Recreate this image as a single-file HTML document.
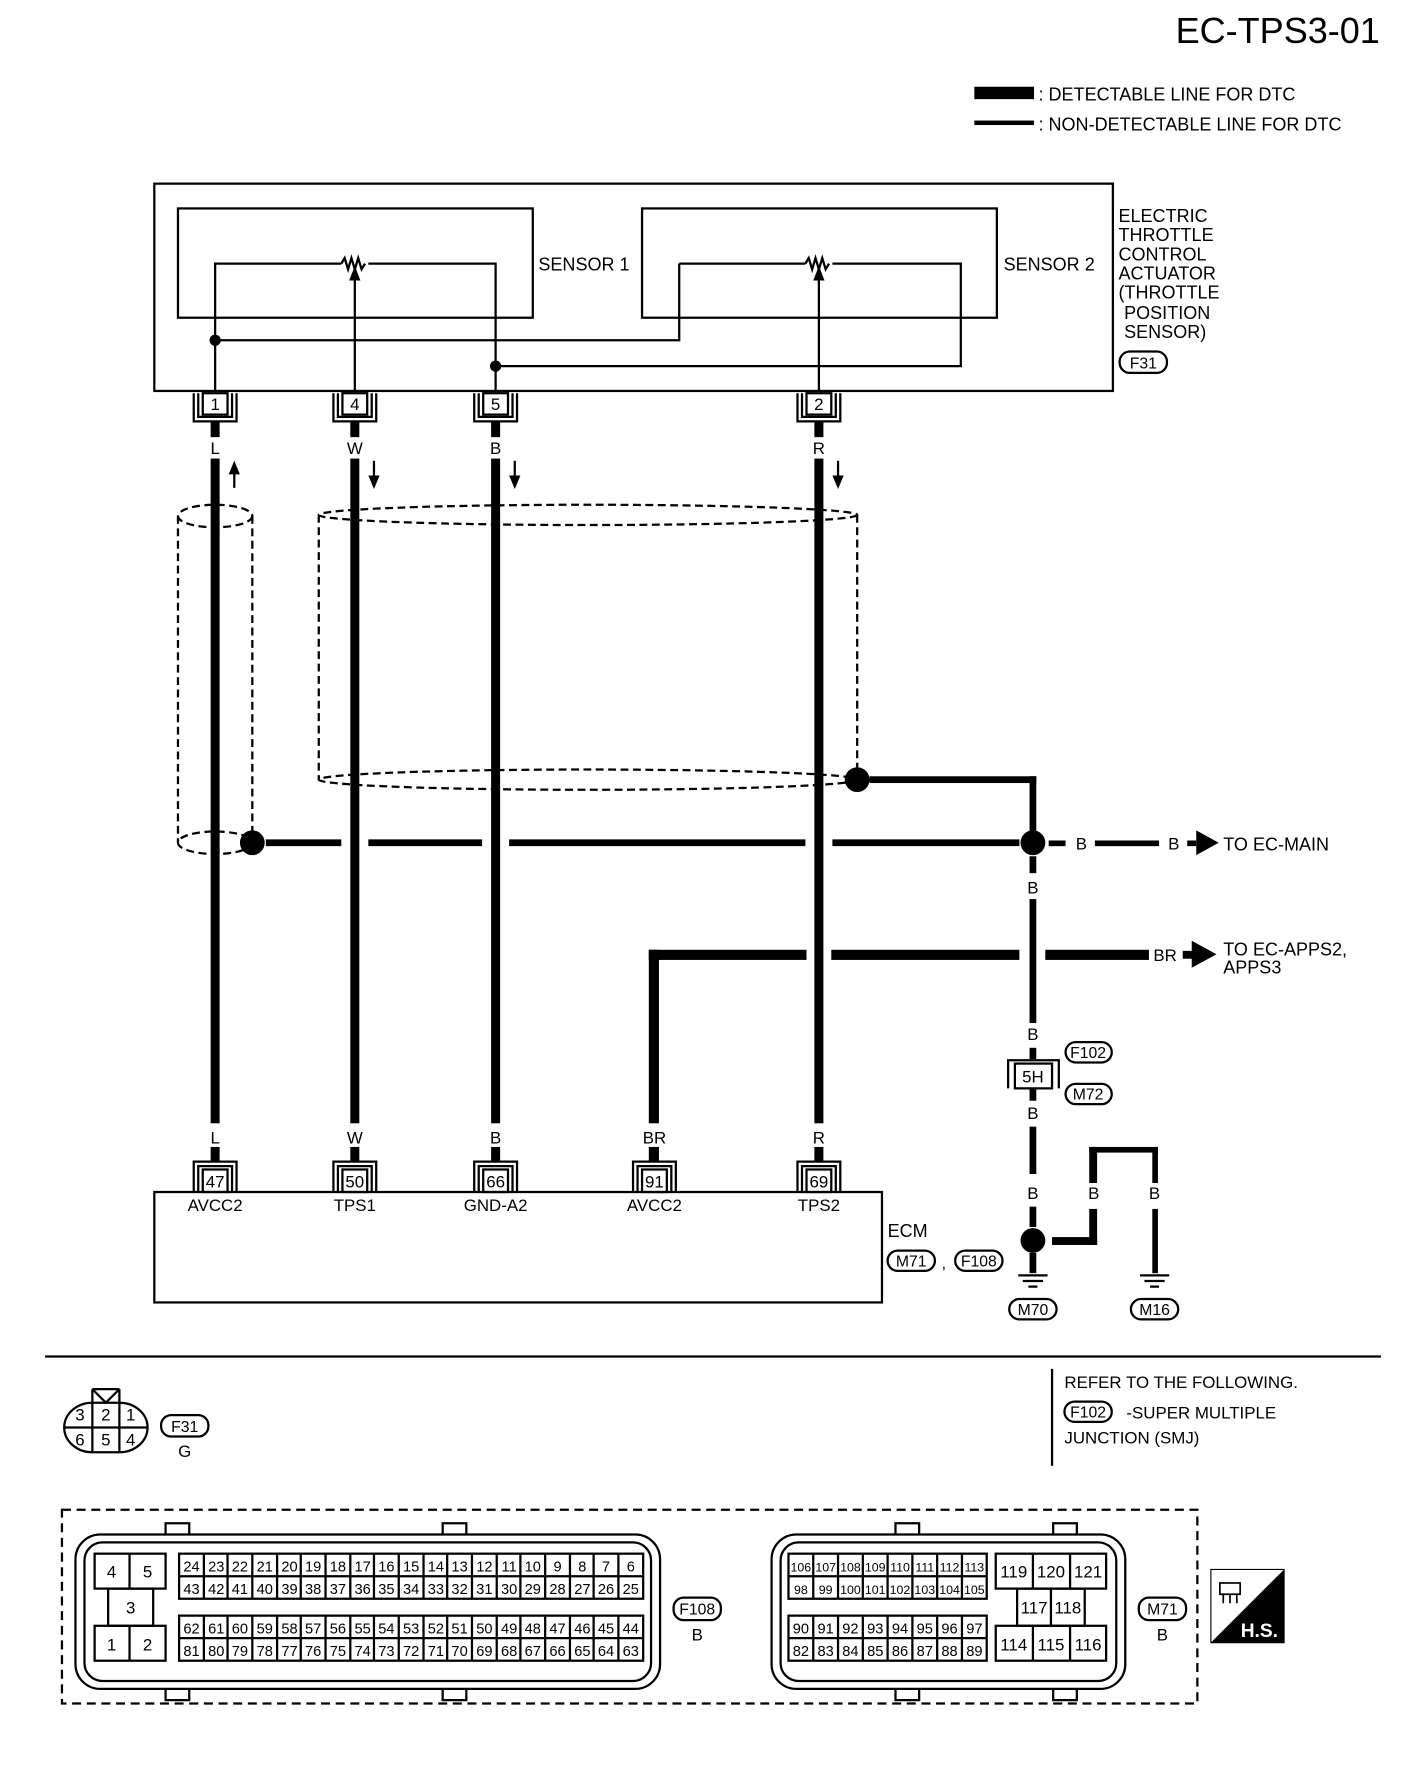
<!DOCTYPE html>
<html><head><meta charset="utf-8"><style>
html,body{margin:0;padding:0;background:#fff}
svg{display:block}
text{font-family:"Liberation Sans",sans-serif;fill:#000}
</style></head><body>
<svg width="1408" height="1770" viewBox="0 0 1250 1571" preserveAspectRatio="none" xmlns="http://www.w3.org/2000/svg">
<rect width="1250" height="1571" fill="#fff"/>
<text x="1225" y="38" font-size="32" text-anchor="end">EC-TPS3-01</text>
<rect x="865" y="77" width="53" height="11" fill="#000"/>
<rect x="865" y="107" width="53" height="4" fill="#000"/>
<text x="922" y="89" font-size="16">: DETECTABLE LINE FOR DTC</text>
<text x="922" y="116" font-size="16">: NON-DETECTABLE LINE FOR DTC</text>

<g fill="none" stroke="#000" stroke-width="2">
<rect x="137" y="163" width="851" height="184"/>
<rect x="158" y="185" width="315" height="97"/>
<rect x="570" y="185" width="315" height="97"/>
<path d="M191,347 V234 H303 M327,234 H440 V347"/>
<path d="M303,234 l3,-5 l3,10 l3,-10 l3,10 l3,-10 l3,10 l3,-5"/>
<path d="M603,234 H715 M739,234 H853 V325 H440"/>
<path d="M715,234 l3,-5 l3,10 l3,-10 l3,10 l3,-10 l3,10 l3,-5"/>
<path d="M191,302 H603 V234"/>
<path d="M315,347 V246 M727,347 V246"/>
</g>
<path d="M315,236 l-5,13 h10z M727,236 l-5,13 h10z" fill="#000"/>
<circle cx="191" cy="302" r="5"/><circle cx="440" cy="325" r="5"/>
<text x="478" y="240" font-size="16">SENSOR 1</text>
<text x="891" y="240" font-size="16">SENSOR 2</text>
<g font-size="16"><text x="993" y="197">ELECTRIC</text><text x="993" y="214">THROTTLE</text><text x="993" y="231">CONTROL</text><text x="993" y="248">ACTUATOR</text><text x="993" y="265">(THROTTLE</text><text x="998" y="283">POSITION</text><text x="998" y="300">SENSOR)</text></g>
<rect x="994" y="312" width="42" height="19" rx="9" fill="none" stroke="#000" stroke-width="2"/><text x="1015" y="327" font-size="14" text-anchor="middle">F31</text>

<!-- top connectors -->
<g fill="none" stroke="#000" stroke-width="2">
<path d="M172,349 V374 H210 V349 M176,349 V370 H206 V349"/><rect x="180" y="349" width="22" height="19" fill="#fff"/>
<path d="M296,349 V374 H334 V349 M300,349 V370 H330 V349"/><rect x="304" y="349" width="22" height="19" fill="#fff"/>
<path d="M421,349 V374 H459 V349 M425,349 V370 H455 V349"/><rect x="429" y="349" width="22" height="19" fill="#fff"/>
<path d="M708,349 V374 H746 V349 M712,349 V370 H742 V349"/><rect x="716" y="349" width="22" height="19" fill="#fff"/>
</g>
<g font-size="15" text-anchor="middle"><text x="191" y="364">1</text><text x="315" y="364">4</text><text x="440" y="364">5</text><text x="727" y="364">2</text></g>
<g font-size="15" text-anchor="middle"><text x="191" y="403">L</text><text x="315" y="403">W</text><text x="440" y="403">B</text><text x="727" y="403">R</text></g>

<!-- thick wires -->
<g fill="#000">
<rect x="187" y="375" width="8" height="13"/><rect x="187" y="407" width="8" height="590"/>
<rect x="311" y="375" width="8" height="13"/><rect x="311" y="407" width="8" height="590"/>
<rect x="436" y="375" width="8" height="13"/><rect x="436" y="407" width="8" height="590"/>
<rect x="723" y="375" width="8" height="13"/><rect x="723" y="407" width="8" height="590"/>
<rect x="576" y="843" width="9" height="154"/>
<rect x="576" y="843" width="140" height="9"/>
<rect x="738" y="843" width="167" height="9"/>
<rect x="928" y="843" width="92" height="9"/>
<path d="M1058,835 l22,12 l-22,12z M1050,844 h8 v7 h-8z"/>
<path d="M208,409 l-5,12 h10z" /><rect x="207" y="419" width="2" height="14"/>
<path d="M332,434 l-5,-12 h10z"/><rect x="331" y="409" width="2" height="14"/>
<path d="M457,434 l-5,-12 h10z"/><rect x="456" y="409" width="2" height="14"/>
<path d="M744,434 l-5,-12 h10z"/><rect x="743" y="409" width="2" height="14"/>
</g>

<!-- shields -->
<g fill="none" stroke="#000" stroke-width="2" stroke-dasharray="7,4">
<ellipse cx="191" cy="458" rx="33" ry="10"/>
<ellipse cx="191" cy="748" rx="33" ry="10"/>
<path d="M158,458 V748 M224,458 V748"/>
<ellipse cx="522" cy="457" rx="239" ry="9"/>
<ellipse cx="522" cy="692" rx="239" ry="9"/>
<path d="M283,457 V692 M761,457 V692"/>
</g>
<circle cx="224" cy="748" r="11"/>
<circle cx="761" cy="692" r="11"/>
<g fill="#000">
<rect x="236" y="745" width="67" height="6"/><rect x="327" y="745" width="101" height="6"/><rect x="452" y="745" width="263" height="6"/><rect x="739" y="745" width="166" height="6"/>
<rect x="772" y="689" width="148" height="6"/><rect x="914" y="689" width="6" height="50"/>
</g>
<circle cx="917" cy="748" r="11"/>
<g fill="#000">
<rect x="931" y="746" width="15" height="5"/><rect x="972" y="746" width="57" height="5"/><rect x="1054" y="746" width="8" height="5"/>
<path d="M1062,737 l20,11 l-20,11z"/>
<rect x="914" y="760" width="6" height="15"/><rect x="914" y="798" width="6" height="110"/>
<rect x="914" y="930" width="6" height="10"/><rect x="914" y="967" width="6" height="10"/>
<rect x="914" y="1000" width="6" height="42"/><rect x="914" y="1071" width="6" height="18"/>
<rect x="914" y="1112" width="6" height="18"/>
<rect x="934" y="1098" width="40" height="7"/>
<rect x="967" y="1018" width="7" height="32"/><rect x="967" y="1073" width="7" height="32"/>
<rect x="967" y="1018" width="61" height="5"/>
<rect x="1023" y="1018" width="5" height="32"/><rect x="1023" y="1073" width="5" height="57"/>
</g>
<circle cx="917" cy="1101" r="11"/>
<g font-size="15" text-anchor="middle"><text x="960" y="754">B</text><text x="1042" y="754">B</text><text x="917" y="793">B</text><text x="917" y="923">B</text><text x="917" y="993">B</text><text x="917" y="1064">B</text><text x="971" y="1064">B</text><text x="1025" y="1064">B</text></g>
<text x="1024" y="853" font-size="15">BR</text>
<text x="1086" y="755" font-size="16">TO EC-MAIN</text>
<text x="1086" y="848" font-size="16">TO EC-APPS2,</text>
<text x="1086" y="864" font-size="16">APPS3</text>
<g fill="none" stroke="#000" stroke-width="2">
<path d="M895,966 V941 H940 V966"/><rect x="901" y="944" width="33" height="22" fill="#fff"/>
<rect x="946" y="925" width="41" height="18" rx="9"/><rect x="946" y="962" width="41" height="18" rx="9"/>
<path d="M904,1132 h26 M908,1137 h18 M913,1142 h8 M1012,1132 h26 M1016,1137 h18 M1021,1142 h8"/>
<rect x="896" y="1153" width="42" height="18" rx="9"/><rect x="1004" y="1153" width="42" height="18" rx="9"/>
</g>
<text x="917" y="961" font-size="15" text-anchor="middle">5H</text>
<text x="966" y="939" font-size="14" text-anchor="middle">F102</text>
<text x="966" y="976" font-size="14" text-anchor="middle">M72</text>
<text x="917" y="1167" font-size="14" text-anchor="middle">M70</text>
<text x="1025" y="1167" font-size="14" text-anchor="middle">M16</text>

<!-- ECM -->
<g fill="#000">
<rect x="187" y="1018" width="8" height="13"/><rect x="311" y="1018" width="8" height="13"/><rect x="436" y="1018" width="8" height="13"/><rect x="576" y="1018" width="9" height="13"/><rect x="723" y="1018" width="8" height="13"/>
</g>
<g font-size="15" text-anchor="middle"><text x="191" y="1015">L</text><text x="315" y="1015">W</text><text x="440" y="1015">B</text><text x="581" y="1015">BR</text><text x="727" y="1015">R</text></g>
<g fill="none" stroke="#000" stroke-width="2">
<path d="M172,1058 V1031 H210 V1058 M176,1058 V1035 H206 V1058"/><rect x="180" y="1038" width="22" height="20" fill="#fff"/>
<path d="M296,1058 V1031 H334 V1058 M300,1058 V1035 H330 V1058"/><rect x="304" y="1038" width="22" height="20" fill="#fff"/>
<path d="M421,1058 V1031 H459 V1058 M425,1058 V1035 H455 V1058"/><rect x="429" y="1038" width="22" height="20" fill="#fff"/>
<path d="M562,1058 V1031 H600 V1058 M566,1058 V1035 H596 V1058"/><rect x="570" y="1038" width="22" height="20" fill="#fff"/>
<path d="M708,1058 V1031 H746 V1058 M712,1058 V1035 H742 V1058"/><rect x="716" y="1038" width="22" height="20" fill="#fff"/>
<rect x="137" y="1058" width="646" height="98"/>
<rect x="788" y="1110" width="42" height="18" rx="9"/><rect x="848" y="1110" width="42" height="18" rx="9"/>
</g>
<g font-size="15" text-anchor="middle"><text x="191" y="1054">47</text><text x="315" y="1054">50</text><text x="440" y="1054">66</text><text x="581" y="1054">91</text><text x="727" y="1054">69</text>
<text x="191" y="1075">AVCC2</text><text x="315" y="1075">TPS1</text><text x="440" y="1075">GND-A2</text><text x="581" y="1075">AVCC2</text><text x="727" y="1075">TPS2</text></g>
<text x="788" y="1098" font-size="16">ECM</text>
<text x="809" y="1124" font-size="14" text-anchor="middle">M71</text><text x="836" y="1126" font-size="14">,</text>
<text x="869" y="1124" font-size="14" text-anchor="middle">F108</text>

<rect x="40" y="1203" width="1186" height="2" fill="#000"/>
<rect x="933" y="1215" width="2" height="86" fill="#000"/>
<text x="945" y="1232" font-size="15">REFER TO THE FOLLOWING.</text>
<rect x="945" y="1244" width="42" height="18" rx="9" fill="none" stroke="#000" stroke-width="2"/>
<text x="966" y="1258" font-size="14" text-anchor="middle">F102</text>
<text x="1000" y="1259" font-size="15">-SUPER MULTIPLE</text>
<text x="945" y="1281" font-size="15">JUNCTION (SMJ)</text>

<!-- F31 connector -->
<g fill="none" stroke="#000" stroke-width="2">
<path d="M82,1245 H106 A25,22 0 0 1 106,1289 H82 A25,22 0 0 1 82,1245Z"/>
<path d="M82,1233 V1289 M106,1233 V1289 M82,1233 H106 M82,1233 L94,1245 L106,1233 M57,1267 H131"/>
<rect x="143" y="1256" width="42" height="19" rx="9"/>
</g>
<g font-size="15" text-anchor="middle"><text x="71" y="1261">3</text><text x="94" y="1261">2</text><text x="116" y="1261">1</text><text x="71" y="1283">6</text><text x="94" y="1283">5</text><text x="116" y="1283">4</text></g>
<text x="164" y="1271" font-size="14" text-anchor="middle">F31</text>
<text x="164" y="1293" font-size="15" text-anchor="middle">G</text>

<!-- bottom connectors -->
<rect x="55" y="1340" width="1008" height="172" fill="none" stroke="#000" stroke-width="2" stroke-dasharray="8,5"/>
<g fill="none" stroke="#000" stroke-width="2">
<rect x="67" y="1362" width="519" height="137" rx="22"/>
<rect x="75" y="1369" width="503" height="123" rx="16"/>
<path d="M147,1362 V1352 H168 V1362 M393,1362 V1352 H414 V1362 M147,1499 V1509 H168 V1499 M393,1499 V1509 H414 V1499"/>
<rect x="685" y="1362" width="314" height="137" rx="22"/>
<rect x="693" y="1369" width="298" height="123" rx="16"/>
<path d="M795,1362 V1352 H816 V1362 M935,1362 V1352 H956 V1362 M795,1499 V1509 H816 V1499 M935,1499 V1509 H956 V1499"/>
<rect x="84" y="1379" width="63" height="31"/><path d="M115,1379 V1410 M115,1443 V1474"/>
<rect x="96" y="1410" width="40" height="33"/>
<rect x="84" y="1443" width="63" height="31"/>
<rect x="159" y="1379" width="412" height="40"/><path d="M159,1399 H571"/>
<rect x="159" y="1434" width="412" height="40"/><path d="M159,1454 H571"/>
<path d="M181,1379V1419M202,1379V1419M224,1379V1419M246,1379V1419M267,1379V1419M289,1379V1419M311,1379V1419M332,1379V1419M354,1379V1419M376,1379V1419M397,1379V1419M419,1379V1419M441,1379V1419M462,1379V1419M484,1379V1419M506,1379V1419M527,1379V1419M549,1379V1419"/>
<path d="M181,1434V1474M202,1434V1474M224,1434V1474M246,1434V1474M267,1434V1474M289,1434V1474M311,1434V1474M332,1434V1474M354,1434V1474M376,1434V1474M397,1434V1474M419,1434V1474M441,1434V1474M462,1434V1474M484,1434V1474M506,1434V1474M527,1434V1474M549,1434V1474"/>
<rect x="700" y="1379" width="176" height="40"/><path d="M700,1399 H876"/>
<rect x="700" y="1434" width="176" height="40"/><path d="M700,1454 H876"/>
<path d="M722,1379V1419M744,1379V1419M766,1379V1419M788,1379V1419M810,1379V1419M832,1379V1419M854,1379V1419"/>
<path d="M722,1434V1474M744,1434V1474M766,1434V1474M788,1434V1474M810,1434V1474M832,1434V1474M854,1434V1474"/>
<rect x="884" y="1379" width="98" height="31"/><path d="M917,1379V1410M950,1379V1410"/>
<rect x="903" y="1410" width="60" height="33"/><path d="M933,1410V1443"/>
<rect x="884" y="1443" width="98" height="31"/><path d="M917,1443V1474M950,1443V1474"/>
<rect x="598" y="1418" width="42" height="20" rx="9"/>
<rect x="1011" y="1418" width="42" height="20" rx="9"/>
</g>
<g font-size="15" text-anchor="middle"><text x="99" y="1400">4</text><text x="131" y="1400">5</text><text x="116" y="1432">3</text><text x="99" y="1465">1</text><text x="131" y="1465">2</text>
<text x="619" y="1433" font-size="14">F108</text><text x="619" y="1456">B</text>
<text x="1032" y="1433" font-size="14">M71</text><text x="1032" y="1456">B</text>
<text x="900" y="1400">119</text><text x="933" y="1400">120</text><text x="966" y="1400">121</text>
<text x="918" y="1432">117</text><text x="948" y="1432">118</text>
<text x="900" y="1465">114</text><text x="933" y="1465">115</text><text x="966" y="1465">116</text></g>
<g font-size="13" text-anchor="middle">
<text x="170" y="1395">24</text><text x="192" y="1395">23</text><text x="213" y="1395">22</text><text x="235" y="1395">21</text><text x="257" y="1395">20</text><text x="278" y="1395">19</text><text x="300" y="1395">18</text><text x="322" y="1395">17</text><text x="343" y="1395">16</text><text x="365" y="1395">15</text><text x="387" y="1395">14</text><text x="408" y="1395">13</text><text x="430" y="1395">12</text><text x="452" y="1395">11</text><text x="473" y="1395">10</text><text x="495" y="1395">9</text><text x="517" y="1395">8</text><text x="538" y="1395">7</text><text x="560" y="1395">6</text>
<text x="170" y="1415">43</text><text x="192" y="1415">42</text><text x="213" y="1415">41</text><text x="235" y="1415">40</text><text x="257" y="1415">39</text><text x="278" y="1415">38</text><text x="300" y="1415">37</text><text x="322" y="1415">36</text><text x="343" y="1415">35</text><text x="365" y="1415">34</text><text x="387" y="1415">33</text><text x="408" y="1415">32</text><text x="430" y="1415">31</text><text x="452" y="1415">30</text><text x="473" y="1415">29</text><text x="495" y="1415">28</text><text x="517" y="1415">27</text><text x="538" y="1415">26</text><text x="560" y="1415">25</text>
<text x="170" y="1450">62</text><text x="192" y="1450">61</text><text x="213" y="1450">60</text><text x="235" y="1450">59</text><text x="257" y="1450">58</text><text x="278" y="1450">57</text><text x="300" y="1450">56</text><text x="322" y="1450">55</text><text x="343" y="1450">54</text><text x="365" y="1450">53</text><text x="387" y="1450">52</text><text x="408" y="1450">51</text><text x="430" y="1450">50</text><text x="452" y="1450">49</text><text x="473" y="1450">48</text><text x="495" y="1450">47</text><text x="517" y="1450">46</text><text x="538" y="1450">45</text><text x="560" y="1450">44</text>
<text x="170" y="1470">81</text><text x="192" y="1470">80</text><text x="213" y="1470">79</text><text x="235" y="1470">78</text><text x="257" y="1470">77</text><text x="278" y="1470">76</text><text x="300" y="1470">75</text><text x="322" y="1470">74</text><text x="343" y="1470">73</text><text x="365" y="1470">72</text><text x="387" y="1470">71</text><text x="408" y="1470">70</text><text x="430" y="1470">69</text><text x="452" y="1470">68</text><text x="473" y="1470">67</text><text x="495" y="1470">66</text><text x="517" y="1470">65</text><text x="538" y="1470">64</text><text x="560" y="1470">63</text>
</g>
<g font-size="11" text-anchor="middle">
<text x="711" y="1395">106</text><text x="733" y="1395">107</text><text x="755" y="1395">108</text><text x="777" y="1395">109</text><text x="799" y="1395">110</text><text x="821" y="1395">111</text><text x="843" y="1395">112</text><text x="865" y="1395">113</text>
<text x="711" y="1415">98</text><text x="733" y="1415">99</text><text x="755" y="1415">100</text><text x="777" y="1415">101</text><text x="799" y="1415">102</text><text x="821" y="1415">103</text><text x="843" y="1415">104</text><text x="865" y="1415">105</text>
</g>
<g font-size="13" text-anchor="middle">
<text x="711" y="1450">90</text><text x="733" y="1450">91</text><text x="755" y="1450">92</text><text x="777" y="1450">93</text><text x="799" y="1450">94</text><text x="821" y="1450">95</text><text x="843" y="1450">96</text><text x="865" y="1450">97</text>
<text x="711" y="1470">82</text><text x="733" y="1470">83</text><text x="755" y="1470">84</text><text x="777" y="1470">85</text><text x="799" y="1470">86</text><text x="821" y="1470">87</text><text x="843" y="1470">88</text><text x="865" y="1470">89</text>
</g>
<!-- H.S. icon -->
<path d="M1140,1393 V1458 H1075Z" fill="#000"/>
<rect x="1075" y="1393" width="65" height="65" fill="none" stroke="#000" stroke-width="1"/>
<g fill="none" stroke="#000" stroke-width="1.5"><rect x="1083" y="1405" width="18" height="10"/><path d="M1086,1415 v8 M1092,1415 v8 M1098,1415 v8"/></g>
<text x="1118" y="1453" font-size="17" font-weight="bold" text-anchor="middle" style="fill:#fff">H.S.</text>
</svg>
</body></html>
